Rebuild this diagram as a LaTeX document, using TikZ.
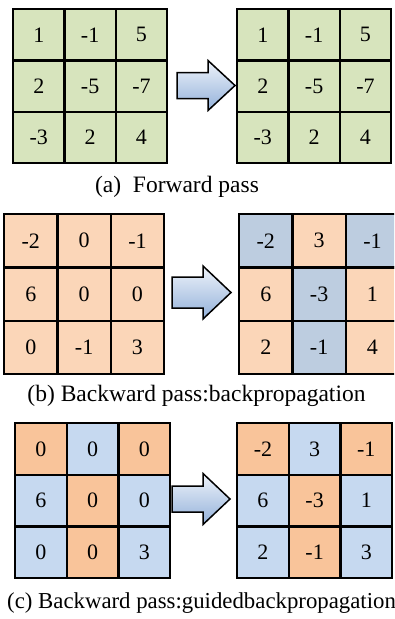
\documentclass[tikz,border=0pt]{standalone}
\usepackage{fontspec}
\setmainfont{Liberation Serif}
\definecolor{fwdgreen}{HTML}{D7E4BD}
\definecolor{peach}{HTML}{FBD6B8}
\definecolor{slate}{HTML}{BDCDE0}
\definecolor{orng}{HTML}{F9C49A}
\definecolor{sky}{HTML}{C6D9F0}
\definecolor{arrowtop}{HTML}{EEF3FA}
\definecolor{arrowbot}{HTML}{93B1DA}
\tikzset{
  cell/.style={draw=black, line width=2.2pt, minimum size=#1, inner sep=0pt,
    anchor=north west, font=\fontsize{22}{22}\selectfont},
  caption/.style={font=\fontsize{23.5}{23.5}\selectfont, inner sep=0pt},
  blockarrow/.style={draw=black, line width=1.5pt, line join=miter,
    top color=arrowtop, bottom color=arrowbot}
}
% 3x3 grid of cells: name, left, top, cell size, list of value/colour
\newcommand\cellgrid[5]{%
  \foreach \v/\c [count=\k from 0] in {#5} {%
    \pgfmathtruncatemacro\r{int(\k/3)}%
    \pgfmathtruncatemacro\q{mod(\k,3)}%
    \node[cell=#4pt, fill=\c] (#1-\r\q) at ({#2+\q*#4},{#3+\r*#4}) {\v};
  }}
% block arrow: left, head start, tip, centre line, body half height, head half height
\newcommand\blockarrow[6]{%
  \shade[blockarrow] (#1,#4-#5) -- (#2,#4-#5) -- (#2,#4-#6) -- (#3,#4)
    -- (#2,#4+#6) -- (#2,#4+#5) -- (#1,#4+#5) -- cycle;}
\begin{document}
\begin{tikzpicture}[x=1pt, y=-1pt]
\useasboundingbox (0,0) rectangle (394,619);
\begin{scope}
\clip (0,0) rectangle (394,619);

% (a) forward pass
\cellgrid{ain}{12}{8}{51.33}{1/fwdgreen,-1/fwdgreen,5/fwdgreen,2/fwdgreen,-5/fwdgreen,-7/fwdgreen,-3/fwdgreen,2/fwdgreen,4/fwdgreen}
\cellgrid{aout}{236}{8}{51.33}{1/fwdgreen,-1/fwdgreen,5/fwdgreen,2/fwdgreen,-5/fwdgreen,-7/fwdgreen,-3/fwdgreen,2/fwdgreen,4/fwdgreen}
\blockarrow{177}{208}{235}{85.5}{13}{25}
\node[caption] (capa) at (177,187) {(a)\ \ Forward pass};

% (b) backpropagation
\cellgrid{bin}{3}{213}{53.33}{-2/peach,0/peach,-1/peach,6/peach,0/peach,0/peach,0/peach,-1/peach,3/peach}
\cellgrid{bout}{238}{213}{53.33}{-2/slate,3/peach,-1/slate,6/peach,-3/slate,1/peach,2/peach,-1/slate,4/peach}
\blockarrow{172}{203}{231}{292.5}{15.5}{26.5}
\node[caption] (capb) at (196.5,396) {(b) Backward pass:backpropagation};

% (c) guided backpropagation
\cellgrid{cin}{14}{422}{51.67}{0/orng,0/sky,0/orng,6/sky,0/orng,0/sky,0/sky,0/orng,3/sky}
\cellgrid{cout}{236}{422}{51.67}{-2/orng,3/sky,-1/orng,6/sky,-3/orng,1/sky,2/sky,-1/orng,3/sky}
\blockarrow{172}{203}{230}{499}{13}{25.5}
\node[caption, font=\fontsize{22.8}{22.8}\selectfont, anchor=west] (capc) at (7,603) {(c) Backward pass:guidedbackpropagation};
\end{scope}
\end{tikzpicture}
\end{document}
